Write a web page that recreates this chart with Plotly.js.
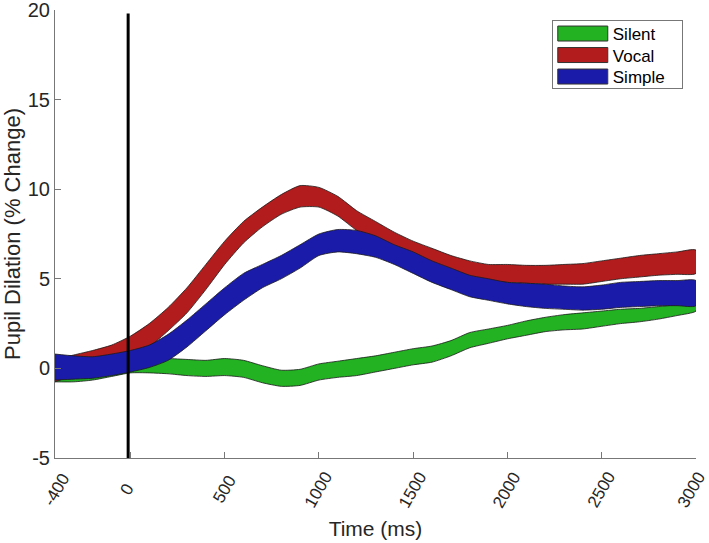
<!DOCTYPE html>
<html>
<head>
<meta charset="utf-8">
<script src="https://cdn.plot.ly/plotly-3.0.1.min.js"></script>
<style>html,body{margin:0;padding:0;background:#fff;}#chart{width:709px;height:543px;}</style>
</head>
<body>
<div id="chart"></div>
<script>
const timeMs = [-400,-300,-200,-100,0,100,200,300,400,500,600,700,800,900,1000,1100,1200,1300,1400,1500,1600,1700,1800,1900,2000,2100,2200,2300,2400,2500,2600,2700,2800,2900,3000];

const silentUpper = [0.1,0.1,0.15,0.25,0.4,0.55,0.55,0.5,0.45,0.55,0.45,0.15,-0.1,-0.05,0.25,0.4,0.55,0.7,0.9,1.1,1.25,1.55,2.0,2.2,2.4,2.65,2.85,3.0,3.1,3.2,3.3,3.35,3.45,3.55,3.7];
const silentLower = [-0.75,-0.75,-0.65,-0.45,-0.25,-0.25,-0.3,-0.4,-0.45,-0.4,-0.5,-0.8,-1.0,-0.95,-0.65,-0.5,-0.4,-0.2,0.0,0.2,0.35,0.7,1.15,1.4,1.65,1.85,2.05,2.15,2.2,2.35,2.5,2.6,2.75,2.95,3.2];

const vocalUpper = [0.5,0.75,1.0,1.3,1.8,2.5,3.4,4.5,5.8,7.1,8.2,9.0,9.7,10.2,10.1,9.6,8.8,8.2,7.6,7.1,6.7,6.3,6.0,5.8,5.8,5.75,5.75,5.8,5.85,6.0,6.15,6.3,6.4,6.5,6.6];
const vocalLower = [-0.75,-0.4,-0.15,0.15,0.5,1.2,2.1,3.1,4.4,5.8,7.0,7.9,8.6,9.0,9.0,8.5,7.7,7.1,6.4,6.0,5.6,5.3,5.1,4.9,4.8,4.75,4.7,4.7,4.7,4.85,5.0,5.1,5.2,5.25,5.3];

const simpleUpper = [0.8,0.7,0.65,0.8,1.0,1.3,1.9,2.7,3.6,4.5,5.3,5.8,6.3,6.9,7.5,7.75,7.7,7.4,6.9,6.5,6.0,5.6,5.2,5.0,4.8,4.75,4.7,4.6,4.55,4.65,4.8,4.85,4.9,4.9,4.9];
const simpleLower = [-0.65,-0.6,-0.55,-0.4,-0.2,0.05,0.45,1.2,2.1,3.0,3.8,4.5,5.0,5.6,6.3,6.5,6.4,6.2,5.8,5.3,4.8,4.4,4.0,3.8,3.6,3.45,3.35,3.3,3.25,3.3,3.4,3.45,3.5,3.5,3.5];

const seriesNames = ['Silent','Vocal','Simple'];
const seriesColors = ['#22b222','#b21c1c','#1b1baa'];
const onsetX = [-12,-12];
const onsetY = [-5,19.8];
const xTicks = [-400,0,500,1000,1500,2000,2500,3000];
const yTicks = [-5,0,5,10,15,20];

function band(name, upper, lower, color){
  return {
    x: timeMs.concat(timeMs.slice().reverse()),
    y: upper.concat(lower.slice().reverse()),
    type: 'scatter', mode: 'lines', fill: 'toself',
    fillcolor: color, name: name,
    line: {color: '#1a1a1a', width: 0.8, shape: 'spline', smoothing: 0.6},
    hoverinfo: 'skip'
  };
}

const traces = [
  band(seriesNames[0], silentUpper, silentLower, seriesColors[0]),
  band(seriesNames[1], vocalUpper, vocalLower, seriesColors[1]),
  band(seriesNames[2], simpleUpper, simpleLower, seriesColors[2]),
  {x: onsetX, y: onsetY, type: 'scatter', mode: 'lines', line: {color: '#000', width: 3}, showlegend: false, hoverinfo: 'skip'}
];

const FAM = 'Liberation Sans, Arial, Helvetica, sans-serif';
const TXT = '#262626';

// x tick labels centred under each tick, rotated like the reference
const xTickLabels = xTicks.map(function(v, i){
  return {
    x: v, xref: 'x', y: -0.0714, yref: 'paper',
    text: String(v), textangle: -60, showarrow: false,
    xanchor: 'center', yanchor: 'middle',
    xshift: (i === xTicks.length - 1) ? -4 : (i === 0 ? 2 : (i === 1 ? -3 : 0)),
    font: {family: FAM, size: 17, color: TXT}
  };
});

const layout = {
  width: 709, height: 543,
  margin: {l: 55, r: 13, t: 10, b: 85},
  paper_bgcolor: '#fff', plot_bgcolor: '#fff',
  font: {family: FAM, size: 20, color: TXT},
  showlegend: true,
  legend: {
    x: 0.775, y: 0.9777, xanchor: 'left', yanchor: 'top',
    xref: 'paper', yref: 'paper',
    bgcolor: '#fff', bordercolor: '#777', borderwidth: 1,
    font: {family: FAM, size: 17, color: '#000'},
    itemwidth: 50, tracegroupgap: 0
  },
  annotations: xTickLabels,
  xaxis: {
    range: [-400, 3000], tickvals: xTicks, showticklabels: false,
    ticks: 'inside', ticklen: 6, tickcolor: '#777',
    showline: true, linecolor: '#777', linewidth: 1, mirror: false,
    showgrid: false, zeroline: false,
    title: {text: 'Time (ms)', font: {family: FAM, size: 21, color: TXT}, standoff: 63}
  },
  yaxis: {
    range: [-5, 20], tickvals: yTicks, ticktext: yTicks.map(String),
    ticks: 'inside', ticklen: 6, tickcolor: '#777',
    showline: true, linecolor: '#777', linewidth: 1, mirror: false,
    showgrid: false, zeroline: false,
    ticklabeloverflow: 'allow',
    title: {text: 'Pupil Dilation (% Change)', font: {family: FAM, size: 22, color: TXT}, standoff: 7},
    tickfont: {family: FAM, size: 20, color: TXT}
  }
};

Plotly.newPlot('chart', traces, layout, {displayModeBar: false, staticPlot: true}).then(function(gd){
  const items = Array.from(gd.querySelectorAll('.legend .traces'));
  // bordered rectangular swatches like the reference
  items.forEach(function(t){
    const f = t.querySelector('.legendfill path');
    const l = t.querySelector('.legendlines path');
    if (f) {
      f.setAttribute('d', 'M5,-7.5h50v15h-50z');
      f.style.stroke = '#333';
      f.style.strokeWidth = '1px';
    }
    if (l) l.style.display = 'none';
  });
  // tighter row spacing and box size as in the reference legend
  const spacing = 21.5, lift = 5;
  if (items.length > 1) {
    const tops = items.map(function(t){ return t.getBoundingClientRect().top; });
    items.forEach(function(t, i){
      const delta = i * spacing - (tops[i] - tops[0]) - lift;
      const tr = t.getAttribute('transform') || '';
      t.setAttribute('transform', tr + ' translate(0,' + delta.toFixed(2) + ')');
    });
    const bg = gd.querySelector('.legend .bg');
    if (bg) {
      bg.setAttribute('height', '68');
      bg.setAttribute('width', '130');
    }
  }
});
</script>
</body>
</html>
